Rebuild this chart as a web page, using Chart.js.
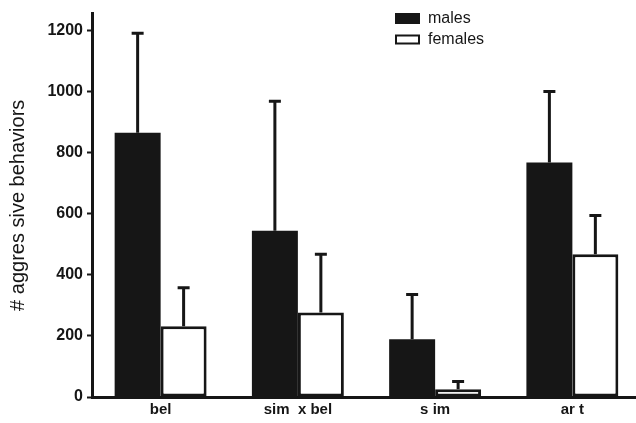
<!DOCTYPE html>
<html>
<head>
<meta charset="utf-8">
<script src="https://cdn.jsdelivr.net/npm/chart.js@4/dist/chart.umd.min.js"></script>
<style>
    html, body { margin: 0; padding: 0; background: #fff; overflow: hidden; }
    #chart { display: block; }
</style>
</head>
<body>
<canvas id="chart" width="641" height="423"></canvas>
<script>
// Datos
const categories = ['bel', 'sim  x bel', 's im', 'ar t'];
const malesMean = [864, 544, 189, 767];
const malesErr = [326, 423, 146, 232];
const femalesMean = [231, 276, 25, 467];
const femalesErr = [126, 191, 26, 127];
const yTicks = [0, 200, 400, 600, 800, 1000, 1200];

const INK = '#161616';

const Grafico = {
    chart: null,

    /**
     * Dibuja las barras de error (solo hacia arriba)
     */
    errorBars: {
        id: 'errorBars',
        afterDatasetsDraw: function(chart) {
            const ctx = chart.ctx;
            const y = chart.scales.y;
            chart.data.datasets.forEach((ds, i) => {
                const meta = chart.getDatasetMeta(i);
                meta.data.forEach((bar, j) => {
                    const top = y.getPixelForValue(ds.data[j] + ds.err[j]);
                    ctx.save();
                    ctx.strokeStyle = INK;
                    ctx.lineWidth = 3;
                    ctx.beginPath();
                    ctx.moveTo(bar.x, bar.y);
                    ctx.lineTo(bar.x, top);
                    ctx.moveTo(bar.x - 6, top);
                    ctx.lineTo(bar.x + 6, top);
                    ctx.stroke();
                    ctx.restore();
                });
            });
        },
    },

    /**
     * Leyenda apilada arriba a la derecha
     */
    legendBox: {
        id: 'legendBox',
        afterDraw: function(chart) {
            const ctx = chart.ctx;
            const x = 395;
            ctx.save();
            ctx.font = '16px "Liberation Sans", Arial, sans-serif';
            ctx.textBaseline = 'middle';
            ctx.fillStyle = INK;
            chart.data.datasets.forEach((ds, i) => {
                const cy = 18.5 + i * 21;
                if (i === 0) {
                    ctx.fillRect(x, cy - 5.5, 25, 11);
                } else {
                    ctx.strokeStyle = INK;
                    ctx.lineWidth = 2;
                    ctx.strokeRect(x + 1, cy - 4, 23, 8);
                }
                ctx.fillText(ds.label, x + 33, cy);
            });
            ctx.restore();
        },
    },

    init: function() {
        const canvas = document.getElementById('chart');
        this.chart = new Chart(canvas, {
            type: 'bar',
            data: {
                labels: categories,
                datasets: [
                    {
                        label: 'males',
                        data: malesMean,
                        err: malesErr,
                        backgroundColor: INK,
                        borderWidth: 0,
                    },
                    {
                        label: 'females',
                        data: femalesMean,
                        err: femalesErr,
                        backgroundColor: '#ffffff',
                        borderColor: INK,
                        borderWidth: 3,
                        borderSkipped: false,
                    },
                ],
            },
            options: {
                responsive: false,
                animation: false,
                layout: { padding: { top: 13, right: 0, bottom: 0, left: 0 } },
                datasets: {
                    bar: { categoryPercentage: 0.67, barPercentage: 1.0 },
                },
                plugins: {
                    legend: { display: false },
                    tooltip: { enabled: false },
                },
                scales: {
                    x: {
                        grid: { display: true, drawOnChartArea: false, drawTicks: false },
                        border: { display: true, width: 3, color: INK },
                        ticks: {
                            color: INK,
                            padding: 4,
                            font: { family: '"Liberation Sans", Arial, sans-serif', size: 15, weight: 'bold' },
                        },
                        afterFit: function(scale) { scale.height = 26; },
                    },
                    y: {
                        min: 0,
                        max: 1254,
                        afterBuildTicks: function(scale) {
                            scale.ticks = yTicks.map(v => ({ value: v }));
                        },
                        grid: {
                            display: true,
                            drawOnChartArea: false,
                            drawTicks: true,
                            tickLength: 5,
                            tickWidth: 2,
                            tickColor: INK,
                        },
                        border: { display: true, width: 3, color: INK },
                        ticks: {
                            color: INK,
                            padding: 4,
                            callback: v => String(v),
                            font: { family: '"Liberation Sans", Arial, sans-serif', size: 16, weight: 'bold' },
                        },
                        title: {
                            display: true,
                            text: '# aggres sive behaviors',
                            color: INK,
                            padding: { top: 6, bottom: 0 },
                            font: { family: '"Liberation Sans", Arial, sans-serif', size: 20 },
                        },
                        afterFit: function(scale) { scale.width = 92; },
                    },
                },
            },
            plugins: [this.errorBars, this.legendBox],
        });
    },
};

document.addEventListener('DOMContentLoaded', () => {
    Grafico.init();
});
</script>
</body>
</html>
